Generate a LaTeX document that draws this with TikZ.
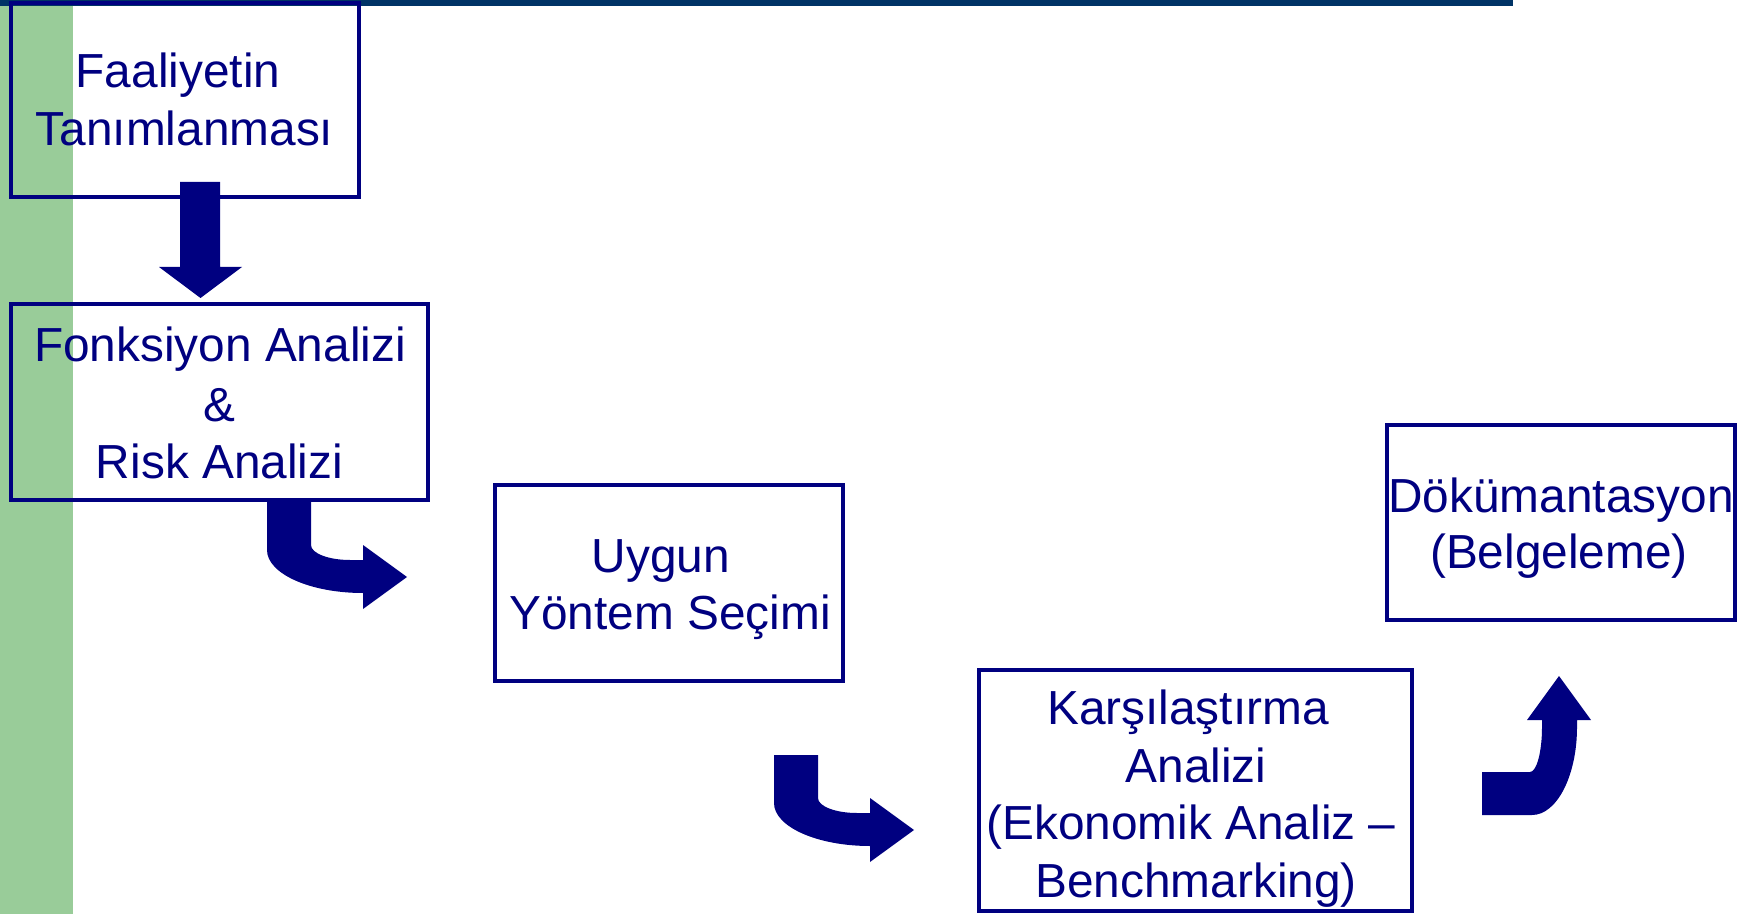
\documentclass[tikz,border=0pt]{standalone}
\usepackage{fontspec}
\setmainfont{Liberation Sans}
\definecolor{navy}{HTML}{000080}
\definecolor{topbar}{HTML}{003366}
\definecolor{greenbar}{HTML}{99CC99}
\begin{document}
\begin{tikzpicture}[x=0.5pt,y=-0.5pt,
  box/.style={draw=navy, line width=2pt, rectangle, inner sep=0pt},
  lbl/.style={text=navy, font=\fontsize{23.9pt}{28.75pt}\selectfont, inner sep=0pt, anchor=base},
  blockarrow/.style={fill=navy, draw=none}]
\useasboundingbox (0,0) rectangle (1754,914);
\fill[white] (0,0) rectangle (1754,914);
% side and top bars
\fill[greenbar] (0,0) rectangle (73,914);
\fill[topbar] (0,0) rectangle (1513,6);
% boxes
\node[box, minimum width=174pt, minimum height=97pt] (b1) at (185,100) {};
\node[box, minimum width=208.5pt, minimum height=98pt] (b2) at (219.5,402) {};
\node[box, minimum width=174pt, minimum height=98pt] (b3) at (669,583) {};
\node[box, minimum width=216.5pt, minimum height=120.5pt] (b4) at (1195.5,790.5) {};
\node[box, minimum width=174pt, minimum height=97.5pt] (b5) at (1561,522.5) {};
% texts
\node[lbl] (t1a) at (178,88) {Faaliyetin};
\node[lbl] (t1b) at (184.5,146) {Tanımlanması};
\node[lbl] (t2a) at (220,362) {Fonksiyon Analizi};
\node[lbl] (t2b) at (219,421) {\&};
\node[lbl] (t2c) at (219.5,478) {Risk Analizi};
\node[lbl] (t3a) at (661,572) {Uygun};
\node[lbl] (t3b) at (670,629) {Yöntem Seçimi};
\node[lbl] (t4a) at (1188,724) {Karşılaştırma};
\node[lbl] (t4b) at (1196,782) {Analizi};
\node[lbl] (t4c) at (1191,839) {(Ekonomik Analiz –};
\node[lbl] (t4d) at (1196,897) {Benchmarking)};
\node[lbl] (t5a) at (1561,512) {Dökümantasyon};
\node[lbl] (t5b) at (1559,568) {(Belgeleme)};
% block arrows
\fill[blockarrow] (180,182) -- (220,182) -- (220,267) -- (242,267) -- (200.5,298) -- (159,267) -- (180,267) -- cycle;
\fill[blockarrow] (267,502) -- (311,502) -- (311,545) .. controls (311,553.3) and (328.5,560) .. (350,560) -- (363,560) -- (363,545) -- (407,577) -- (363,609) -- (363,593) .. controls (310,593) and (267,573.7) .. (267,550) -- cycle;
\begin{scope}[shift={(507,253)}]
\fill[blockarrow] (267,502) -- (311,502) -- (311,545) .. controls (311,553.3) and (328.5,560) .. (350,560) -- (363,560) -- (363,545) -- (407,577) -- (363,609) -- (363,593) .. controls (310,593) and (267,573.7) .. (267,550) -- cycle;
\end{scope}
\fill[blockarrow] (1482,772) -- (1530,772) .. controls (1536.6,772) and (1542,751.9) .. (1542,727) -- (1542,720) -- (1527,720) -- (1559,676) -- (1591,720) -- (1577,720) -- (1577,727) .. controls (1577,775.6) and (1556.9,815) .. (1532,815) -- (1482,815) -- cycle;
\end{tikzpicture}
\end{document}
